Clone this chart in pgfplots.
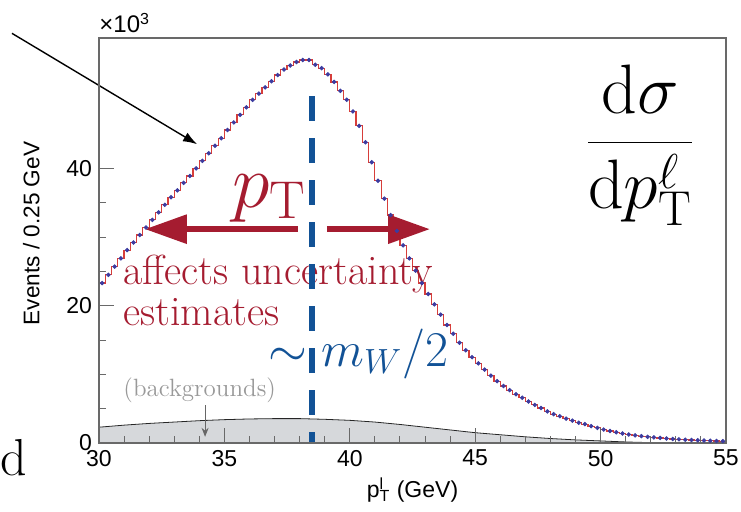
\RequirePackage{fix-cm}
\documentclass[border=0pt]{standalone}
\usepackage{fontspec}
\setsansfont{Liberation Sans}
\usepackage{pgfplots}
\usepackage{pgfplotstable}
\pgfplotsset{compat=1.18}
\usetikzlibrary{arrows.meta}
\definecolor{crim}{RGB}{165,28,48}
\definecolor{wblue}{RGB}{18,82,150}
\definecolor{histred}{RGB}{215,62,58}
\definecolor{ptblue}{RGB}{60,60,160}
\definecolor{bgfill}{RGB}{214,216,219}
\definecolor{framegray}{RGB}{105,105,105}

\pgfplotstableread{
e y
30.00 23.3
30.25 24.5
30.50 25.7
30.75 26.9
31.00 28.1
31.25 29.2
31.50 30.3
31.75 31.4
32.00 32.5
32.25 33.6
32.50 34.7
32.75 35.8
33.00 36.8
33.25 37.9
33.50 38.9
33.75 40.0
34.00 41.1
34.25 42.2
34.50 43.3
34.75 44.4
35.00 45.6
35.25 46.7
35.50 47.8
35.75 48.9
36.00 50.0
36.25 50.9
36.50 51.8
36.75 52.7
37.00 53.6
37.25 54.4
37.50 55.0
37.75 55.5
38.00 55.8
38.25 55.8
38.50 55.1
38.75 54.6
39.00 53.7
39.25 52.6
39.50 51.3
39.75 50.0
40.00 48.3
40.25 46.2
40.50 43.8
40.75 40.9
41.00 38.2
41.25 35.6
41.50 33.2
41.75 30.9
42.00 28.8
42.25 26.9
42.50 25.1
42.75 23.3
43.00 21.7
43.25 20.2
43.50 18.7
43.75 17.2
44.00 15.9
44.25 14.6
44.50 13.5
44.75 12.5
45.00 11.6
45.25 10.7
45.50 9.8
45.75 9.0
46.00 8.3
46.25 7.7
46.50 7.1
46.75 6.6
47.00 6.05
47.25 5.55
47.50 5.1
47.75 4.6
48.00 4.2
48.25 3.9
48.50 3.55
48.75 3.25
49.00 2.95
49.25 2.75
49.50 2.45
49.75 2.2
50.00 1.95
50.25 1.75
50.50 1.56
50.75 1.39
51.00 1.24
51.25 1.11
51.50 1.0
51.75 0.9
52.00 0.81
52.25 0.74
52.50 0.66
52.75 0.59
53.00 0.53
53.25 0.48
53.50 0.43
53.75 0.40
54.00 0.36
54.25 0.32
54.50 0.29
54.75 0.26
55.00 0.26
}\histtable

\pgfplotstableread{
x y
30 2.3
31 2.6
32 2.85
33 3.05
34 3.25
35 3.4
36 3.5
37 3.55
38 3.55
39 3.45
40 3.3
41 3.05
42 2.7
43 2.3
44 1.9
45 1.5
46 1.2
47 0.9
48 0.65
49 0.45
50 0.3
51 0.15
52 0.05
53 0.02
55 0.0
}\bgtable

\begin{document}
\begin{tikzpicture}
\useasboundingbox (-49.5pt,-34.5pt) rectangle (321pt,221.5pt);
\begin{axis}[
  at={(0,0)}, anchor=south west,
  scale only axis, width=313.5pt, height=202.5pt,
  xmin=30, xmax=55, ymin=0, ymax=59,
  xtick={30,35,40,45,50,55}, minor x tick num=4,
  ytick={0,20,40}, minor y tick num=3,
  tick pos=left,
  major tick length=7.5pt, minor tick length=3.5pt,
  axis line style={framegray, line width=0.6pt},
  every tick/.style={framegray, line width=0.5pt},
  tick label style={font=\sffamily\fontsize{11.5}{13}\selectfont},
  /pgf/number format/assume math mode=true,
  ylabel={Events / 0.25 GeV},
  ylabel style={at={(axis description cs:-0.108,0.517)}, anchor=center, font=\sffamily\fontsize{11.3}{13}\selectfont},
  xlabel={p\rlap{\textsuperscript{l}}\textsubscript{T} (GeV)},
  xlabel style={at={(axis description cs:0.5,-0.116)}, anchor=center, font=\sffamily\fontsize{11.5}{13}\selectfont},
  axis on top,
  clip=false,
]
% background
\addplot[fill=bgfill, draw=black!85, line width=0.4pt] table[x=x,y=y] {\bgtable} \closedcycle;
% histogram
\addplot[histred, line width=0.6pt, const plot mark left, no marks] table[x=e,y=y] {\histtable};
% data points
\addplot[only marks, mark=*, mark size=0.9pt, ptblue, skip coords between index={100}{101}] table[x expr=\thisrow{e}+0.125, y=y] {\histtable};

% scale factor
\node[anchor=base west, inner sep=0pt, font=\sffamily\fontsize{12}{14}\selectfont] at (rel axis cs:0,1) [yshift=2.5pt] {×10\textsuperscript{3}};

% annotations
\node[anchor=base west, inner sep=0pt, text=crim, font=\fontsize{38}{42}\selectfont] at (axis cs:35.30,34.35) {$p_{\mathrm{T}}$};
\draw[crim, line width=3pt, -{Triangle[length=21pt,width=14pt]}] (axis cs:37.93,31.15) -- (axis cs:31.83,31.15);
\draw[crim, line width=3pt, -{Triangle[length=21pt,width=14pt]}] (axis cs:39.09,31.15) -- (axis cs:43.20,31.15);
\node[anchor=base west, inner sep=0pt, text=crim, font=\fontsize{21}{24}\selectfont] at (axis cs:30.96,23.14) {affects uncertainty};
\node[anchor=base west, inner sep=0pt, text=crim, font=\fontsize{21}{24}\selectfont] at (axis cs:30.96,17.18) {estimates};
\node[anchor=base west, inner sep=0pt, text=wblue, font=\fontsize{25}{30}\selectfont] at (axis cs:36.74,11.2) {$\sim m_W/2$};
\node[anchor=base west, inner sep=0pt, text=black!40, font=\fontsize{12.5}{15}\selectfont] at (axis cs:30.96,6.74) {(backgrounds)};
\draw[black!60, line width=0.5pt, -{Stealth[length=4.5pt,width=3.5pt]}] (axis cs:34.23,5.5) -- (axis cs:34.23,0.9);
\draw[wblue, line width=3pt, dash pattern=on 12.5pt off 8.5pt] (axis cs:38.5,50.5) -- (axis cs:38.5,0);
\draw[black, line width=0.7pt, -{Latex[length=7pt,width=5pt]}] (axis cs:26.53,59.68) -- (axis cs:33.91,43.53);
\node[anchor=center, inner sep=0pt, font=\fontsize{35}{42}\selectfont] at (axis cs:51.57,43.4) {$\displaystyle\frac{\mathrm{d}\sigma}{\mathrm{d}p_{\mathrm{T}}^{\ell}}$};
\node[anchor=base west, inner sep=0pt, font=\fontsize{26}{30}\selectfont] at (axis description cs:-0.157,-0.081) {d};
\end{axis}
\end{tikzpicture}
\end{document}
